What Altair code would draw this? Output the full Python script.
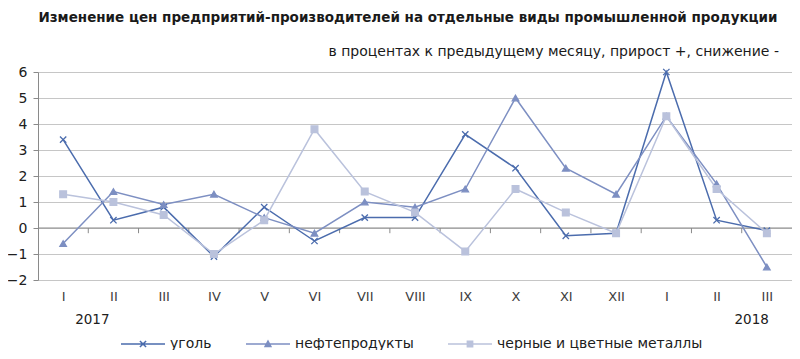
import altair as alt
import pandas as pd

# ---- data ----
months = ["I", "II", "III", "IV", "V", "VI", "VII", "VIII", "IX", "X", "XI", "XII", "I", "II", "III"]
series_names = ["уголь", "нефтепродукты", "черные и цветные металлы"]
coal = [3.4, 0.3, 0.8, -1.1, 0.8, -0.5, 0.4, 0.4, 3.6, 2.3, -0.3, -0.2, 6.0, 0.3, -0.1]
oil = [-0.6, 1.4, 0.9, 1.3, 0.4, -0.2, 1.0, 0.8, 1.5, 5.0, 2.3, 1.3, 4.3, 1.7, -1.5]
metals = [1.3, 1.0, 0.5, -1.0, 0.3, 3.8, 1.4, 0.6, -0.9, 1.5, 0.6, -0.2, 4.3, 1.5, -0.2]
years = ["2017", "2018"]
title_text = "Изменение цен предприятий-производителей на отдельные виды промышленной продукции"
subtitle_text = "в процентах к предыдущему месяцу, прирост +, снижение -"

# ---- styling ----
colors = ["#4b6cad", "#7d8fc2", "#bac2dc"]
marker_paths = ["M-1,-1L1,1M-1,1L1,-1", "triangle-up", "square"]
legend_paths = [
    "M-1,0H1M-0.14,-0.14L0.14,0.14M-0.14,0.14L0.14,-0.14",
    "M-1,0H1M-0.13,0.11L0,-0.13L0.13,0.11Z",
    "M-1,0H1M-0.12,-0.12H0.12V0.12H-0.12Z",
]
W, H = 754, 208
FONT = "DejaVu Sans"

rows = []
for name, vals in zip(series_names, [coal, oil, metals]):
    for i, v in enumerate(vals):
        rows.append({"idx": i, "series": name, "value": v})
df = pd.DataFrame(rows)

x_scale = alt.Scale(domain=[-0.5, len(months) - 0.5], nice=False, zero=False)
y_scale = alt.Scale(domain=[-2, 6], nice=False, zero=False)
color_scale = alt.Scale(domain=series_names, range=colors)
label_expr = "[" + ",".join(f"'{m}'" for m in months) + "][datum.value]"

x_axis = alt.Axis(values=list(range(len(months))), labelExpr=label_expr, grid=False,
                  ticks=False, domain=False, title=None, labelPadding=10,
                  labelFontSize=13, labelColor="#404040", labelFont=FONT)
y_axis = alt.Axis(values=list(range(-2, 7)), grid=True, gridColor="#c6c6c6",
                  gridWidth=1.2, domainColor="#8a8a8a", tickColor="#8a8a8a",
                  tickSize=5, title=None, labelFontSize=14, labelPadding=6,
                  labelColor="#202020", labelFont=FONT)


def xq(field):
    return alt.X(field, type="quantitative", scale=x_scale, axis=x_axis)


def yq(field):
    return alt.Y(field, type="quantitative", scale=y_scale, axis=y_axis)


lines = alt.Chart(df).mark_line(strokeWidth=1.5).encode(
    x=xq("idx"), y=yq("value"),
    color=alt.Color("series:N", scale=color_scale, legend=None),
    detail="series:N",
)

points = alt.Chart(df).mark_point(filled=True, opacity=1, strokeWidth=1.3).encode(
    x=xq("idx"), y=yq("value"),
    fill=alt.Fill("series:N", scale=color_scale, legend=None),
    stroke=alt.Stroke("series:N", scale=color_scale, legend=None),
    shape=alt.Shape("series:N", scale=alt.Scale(domain=series_names, range=marker_paths), legend=None),
    size=alt.Size("series:N", scale=alt.Scale(domain=series_names, range=[40, 45, 55]), legend=None),
)

zero_df = pd.DataFrame({"value": [0.0]})
zero_line = alt.Chart(zero_df).mark_rule(color="#8a8a8a", strokeWidth=1.2).encode(
    y=yq("value")
)

tick_df = pd.DataFrame({"idx": [i + 0.5 for i in range(len(months) - 1)]})
tick_df["value"] = 0.0
tick_df["value2"] = -0.2
boundary_ticks = alt.Chart(tick_df).mark_rule(color="#8a8a8a", strokeWidth=1).encode(
    x=xq("idx"), y=yq("value"), y2="value2:Q",
)

leg = dict(orient="none", legendX=82, legendY=249, direction="horizontal", title=None,
           symbolSize=1936, symbolStrokeWidth=1.5, labelFontSize=14, labelFont=FONT,
           labelColor="#202020", columnPadding=31, labelOffset=4, labelLimit=400)
legend_df = pd.DataFrame({"lg": series_names})
legend_layer = alt.Chart(legend_df).mark_point(filled=True, opacity=1, clip=True, strokeWidth=1.5).encode(
    x=alt.value(-300), y=alt.value(-300),
    fill=alt.Fill("lg:N", scale=color_scale, legend=alt.Legend(**leg)),
    stroke=alt.Stroke("lg:N", scale=color_scale, legend=alt.Legend(**leg)),
    shape=alt.Shape("lg:N", scale=alt.Scale(domain=series_names, range=legend_paths),
                    legend=alt.Legend(**leg)),
)

title_layer = alt.Chart(pd.DataFrame({"t": [title_text]})).mark_text(
    font=FONT, fontSize=13.5, fontWeight="bold", color="#1a1a1a", align="center", baseline="middle"
).encode(text="t:N", x=alt.value(370), y=alt.value(-54))

subtitle_layer = alt.Chart(pd.DataFrame({"t": [subtitle_text]})).mark_text(
    font=FONT, fontSize=14, color="#1a1a1a", align="right", baseline="middle"
).encode(text="t:N", x=alt.value(741), y=alt.value(-20))

year_df = pd.DataFrame({"year": years, "idx": [0, len(months) - 1]})
year_first = alt.Chart(year_df.iloc[[0]]).mark_text(
    font=FONT, fontSize=13.5, color="#202020", baseline="middle", align="left", dx=12
).encode(text="year:N", x=xq("idx"), y=alt.value(H + 40))
year_last = alt.Chart(year_df.iloc[[1]]).mark_text(
    font=FONT, fontSize=13.5, color="#202020", baseline="middle", align="right", dx=2
).encode(text="year:N", x=xq("idx"), y=alt.value(H + 40))

chart = alt.layer(
    zero_line, boundary_ticks, lines, points, legend_layer, title_layer, subtitle_layer,
    year_first, year_last
).resolve_scale(
    shape="independent", fill="independent", stroke="independent"
).resolve_legend(
    shape="independent", fill="independent", stroke="independent"
).properties(
    width=W, height=H,
    autosize=alt.AutoSizeParams(type="none"),
    padding={"left": 30, "top": 64, "right": 0, "bottom": 70},
).configure_view(stroke=None)

chart.save("out.html", embed_options={"renderer": "svg", "actions": False})
